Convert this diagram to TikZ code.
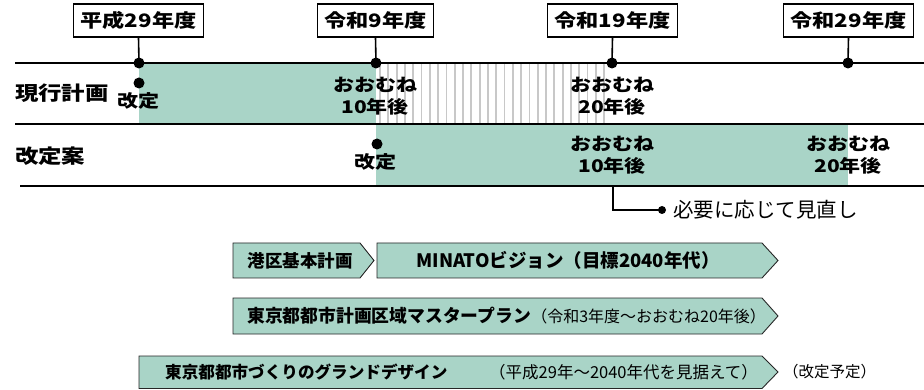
\documentclass[tikz,border=0pt]{standalone}
\usepackage{fontspec}
\newfontfamily\widejp[FakeStretch=1.2]{Noto Sans CJK JP}
\newfontfamily\jp{Noto Sans CJK JP}
\definecolor{mgreen}{RGB}{169,212,199}
\definecolor{stripe}{RGB}{200,200,200}
\begin{document}
\begin{tikzpicture}[x=1pt,y=-1pt,
  yearbox/.style={draw, line width=1.3pt, fill=white, inner xsep=7pt, inner ysep=0pt,
    minimum height=33pt, font=\widejp\bfseries\fontsize{18.5}{20}\selectfont},
  bigdot/.style={circle, fill=black, inner sep=0pt, minimum size=11pt},
  smalldot/.style={circle, fill=black, inner sep=0pt, minimum size=8pt},
  toptext/.style={align=center, inner sep=0pt, font=\widejp\bfseries\fontsize{17.5}{22}\selectfont},
  rowlabel/.style={anchor=west, inner sep=0pt, font=\widejp\bfseries\fontsize{19.5}{22}\selectfont},
  chev/.style={draw=black!85, line width=0.9pt, fill=mgreen},
  btitle/.style={inner sep=0pt, font=\jp\bfseries\fontsize{17.5}{20}\selectfont},
  bnote/.style={inner sep=0pt, font=\jp\fontsize{15.5}{18}\selectfont}
]
\useasboundingbox (0,0) rectangle (924,390);

% fills
\fill[mgreen] (139,63) rectangle (376,124);
\fill[mgreen] (376,124) rectangle (848,186);
\foreach \x in {380,388.3,...,612} \draw[stripe, line width=1.8pt] (\x,64) -- (\x,123);

% row lines
\draw[line width=1.8pt] (15,63) -- (924,63);
\draw[line width=2.2pt] (15,124) -- (924,124);
\draw[line width=1.8pt] (20,186) -- (924,186);

% year boxes and dots
\node[yearbox] (y1) at (138.5,20.5) {平成29年度};
\node[yearbox] (y2) at (375.5,20.5) {令和9年度};
\node[yearbox] (y3) at (612.5,20.5) {令和19年度};
\node[yearbox] (y4) at (848.5,20.5) {令和29年度};
\node[bigdot] (d1) at (139,63) {};
\node[bigdot] (d2) at (376,63) {};
\node[bigdot] (d3) at (612,63) {};
\node[bigdot] (d4) at (848,63) {};
\foreach \i in {1,2,3,4} \draw[line width=1.6pt] (y\i.south) -- (d\i.center);

% row labels
\node[rowlabel] (r1) at (15,93) {現行計画};
\node[rowlabel] (r2) at (15,156) {改定案};

% row 1 contents
\node[bigdot] (rd1) at (139,83) {};
\node[toptext] (k1) at (138,101) {改定};
\node[toptext] (t1) at (375,96) {おおむね\\10年後};
\node[toptext] (t2) at (612,96) {おおむね\\20年後};

% row 2 contents
\node[bigdot] (rd2) at (377,144) {};
\node[toptext] (k2) at (375,162) {改定};
\node[toptext] (t3) at (612,155) {おおむね\\10年後};
\node[toptext] (t4) at (848,155) {おおむね\\20年後};

% review connector
\coordinate (c1) at (613,187);
\node[smalldot] (rv) at (662,210) {};
\draw[line width=1.4pt] (c1) |- (rv.center);
\node[anchor=west, inner sep=0pt, font=\jp\fontsize{20.5}{22}\selectfont] (rvt) at (673,210) {必要に応じて見直し};

% chevrons
\draw[chev] (233,243) -- (360,243) -- (374,260.5) -- (360,278) -- (233,278) -- cycle;
\draw[chev] (377,243) -- (762,243) -- (778,260.5) -- (762,278) -- (377,278) -- cycle;
\draw[chev] (233,298) -- (762,298) -- (778,316) -- (762,334) -- (233,334) -- cycle;
\draw[chev] (139,356) -- (762,356) -- (778,372) -- (762,388.5) -- (139,388.5) -- cycle;

\node[btitle] (b1) at (300,260.5) {港区基本計画};
\node[btitle, font=\jp\bfseries\fontsize{18.5}{20}\selectfont] (b2) at (568,260.5) {MINATOビジョン（目標2040年代）};
\node[btitle, anchor=west, font=\jp\bfseries\fontsize{17.8}{20}\selectfont] (b3) at (247,316) {東京都都市計画区域マスタープラン};
\node[bnote, anchor=west, font=\jp\fontsize{16}{18}\selectfont] (b3n) at (b3.east) {（令和3年度～おおむね20年後）};
\node[btitle, anchor=west, font=\jp\bfseries\fontsize{16.6}{20}\selectfont] (b4) at (165,372) {東京都都市づくりのグランドデザイン};
\node[bnote, anchor=west, font=\jp\fontsize{16.5}{18}\selectfont] (b4n) at (489,372) {（平成29年～2040年代を見据えて）};
\node[bnote, anchor=west] (b5) at (783,372) {（改定予定）};
\end{tikzpicture}
\end{document}
